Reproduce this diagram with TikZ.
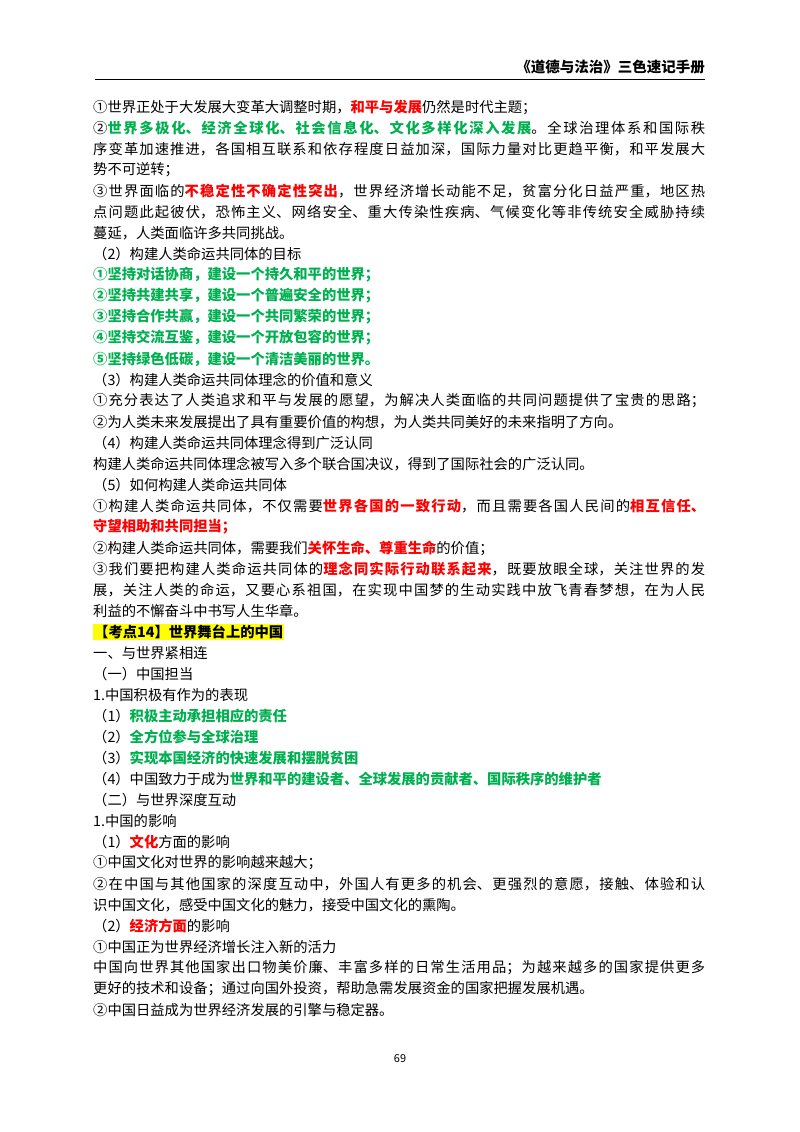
\documentclass[tikz,border=0pt]{standalone}
\usepackage{fontspec}
\setmainfont{Noto Sans CJK SC}
\XeTeXlinebreaklocale "zh"
\XeTeXlinebreakskip=0pt plus 3pt
\definecolor{rd}{HTML}{FF0000}
\definecolor{gn}{HTML}{00B050}
\definecolor{hl}{HTML}{FFFF00}
\newcommand{\Rt}[1]{\textbf{\color{rd}#1}}
\newcommand{\Gt}[1]{\textbf{\color{gn}#1}}
\begin{document}
\begin{tikzpicture}[x=1pt,y=-1pt,
  ln/.style={anchor=west,inner sep=0pt,font=\fontsize{14.3}{17}\selectfont},
  nn/.style={},
  full/.style={text width=612pt,align=justify,execute at begin node={\parfillskip=0pt}}]
\useasboundingbox (0,0) rectangle (800,1132);
\node[anchor=east,inner sep=0pt,font=\fontsize{14.5}{17}\selectfont\bfseries] (hd) at (705,67) {《道德与法治》三色速记手册};
\draw[line width=0.8pt] (95,79) -- (705,79);
\foreach \i/\s/\t in {
0/nn/{①世界正处于大发展大变革大调整时期，\Rt{和平与发展}仍然是时代主题；},
1/full/{②\Gt{世界多极化、经济全球化、社会信息化、文化多样化深入发展}。全球治理体系和国际秩},
2/full/{序变革加速推进，各国相互联系和依存程度日益加深，国际力量对比更趋平衡，和平发展大},
3/nn/{势不可逆转；},
4/full/{③世界面临的\Rt{不稳定性不确定性突出}，世界经济增长动能不足，贫富分化日益严重，地区热},
5/full/{点问题此起彼伏，恐怖主义、网络安全、重大传染性疾病、气候变化等非传统安全威胁持续},
6/nn/{蔓延，人类面临许多共同挑战。},
7/nn/{（2）构建人类命运共同体的目标},
8/nn/{\Gt{①坚持对话协商，建设一个持久和平的世界；}},
9/nn/{\Gt{②坚持共建共享，建设一个普遍安全的世界；}},
10/nn/{\Gt{③坚持合作共赢，建设一个共同繁荣的世界；}},
11/nn/{\Gt{④坚持交流互鉴，建设一个开放包容的世界；}},
12/nn/{\Gt{⑤坚持绿色低碳，建设一个清洁美丽的世界。}},
13/nn/{（3）构建人类命运共同体理念的价值和意义},
14/full/{①充分表达了人类追求和平与发展的愿望，为解决人类面临的共同问题提供了宝贵的思路；},
15/nn/{②为人类未来发展提出了具有重要价值的构想，为人类共同美好的未来指明了方向。},
16/nn/{（4）构建人类命运共同体理念得到广泛认同},
17/nn/{构建人类命运共同体理念被写入多个联合国决议，得到了国际社会的广泛认同。},
18/nn/{（5）如何构建人类命运共同体},
19/full/{①构建人类命运共同体，不仅需要\Rt{世界各国的一致行动}，而且需要各国人民间的\Rt{相互信任、}},
20/nn/{\Rt{守望相助和共同担当；}},
21/nn/{②构建人类命运共同体，需要我们\Rt{关怀生命、尊重生命}的价值；},
22/full/{③我们要把构建人类命运共同体的\Rt{理念同实际行动联系起来}，既要放眼全球，关注世界的发},
23/full/{展，关注人类的命运，又要心系祖国，在实现中国梦的生动实践中放飞青春梦想，在为人民},
24/nn/{利益的不懈奋斗中书写人生华章。},
26/nn/{一、与世界紧相连},
27/nn/{（一）中国担当},
28/nn/{1.中国积极有作为的表现},
29/nn/{（1）\Gt{积极主动承担相应的责任}},
30/nn/{（2）\Gt{全方位参与全球治理}},
31/nn/{（3）\Gt{实现本国经济的快速发展和摆脱贫困}},
32/nn/{（4）中国致力于成为\Gt{世界和平的建设者、全球发展的贡献者、国际秩序的维护者}},
33/nn/{（二）与世界深度互动},
34/nn/{1.中国的影响},
35/nn/{（1）\Rt{文化}方面的影响},
36/nn/{①中国文化对世界的影响越来越大；},
37/full/{②在中国与其他国家的深度互动中，外国人有更多的机会、更强烈的意愿，接触、体验和认},
38/nn/{识中国文化，感受中国文化的魅力，接受中国文化的熏陶。},
39/nn/{（2）\Rt{经济方面}的影响},
40/nn/{①中国正为世界经济增长注入新的活力},
41/full/{中国向世界其他国家出口物美价廉、丰富多样的日常生活用品；为越来越多的国家提供更多},
42/nn/{更好的技术和设备；通过向国外投资，帮助急需发展资金的国家把握发展机遇。},
43/nn/{②中国日益成为世界经济发展的引擎与稳定器。}}
{\node[ln,\s] (l\i) at (93,107+21*\i) {\t};}
\node[ln,fill=hl,inner sep=1pt] (kd) at (93,632) {\textbf{【考点14】世界舞台上的中国}};
\node[inner sep=0pt,font=\fontsize{11}{13}\selectfont] (pg) at (400,1059) {69};
\end{tikzpicture}
\end{document}
